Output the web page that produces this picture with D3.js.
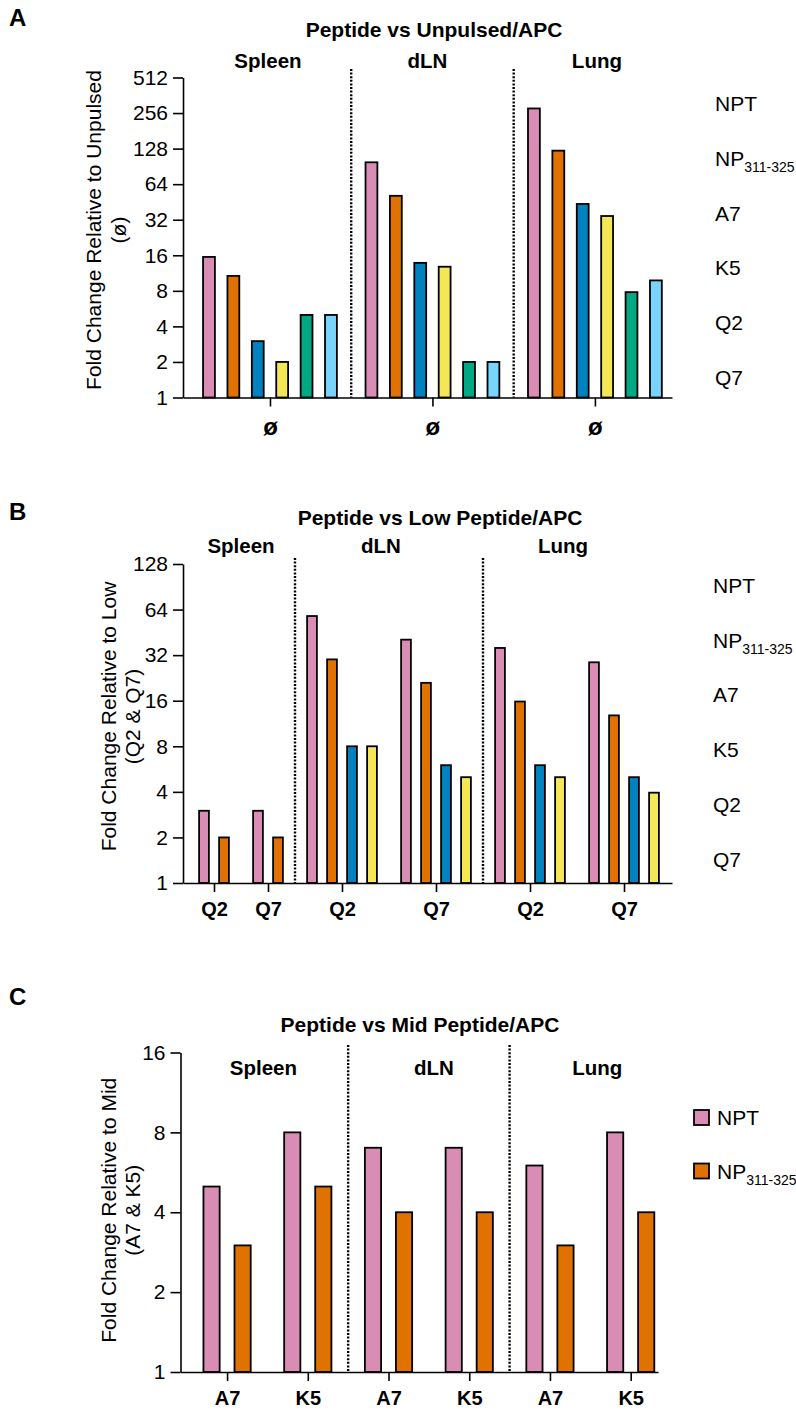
<!DOCTYPE html>
<html>
<head>
<meta charset="utf-8">
<script src="https://cdn.jsdelivr.net/npm/d3@7"></script>
<style>
  body { margin: 0; background: #fff; }
  svg { display: block; font-family: "Liberation Sans", Arial, Helvetica, sans-serif; }
  .axis path, .axis line { stroke: #000; stroke-width: 1.6px; }
  .axis text { font-family: "Liberation Sans", Arial, Helvetica, sans-serif; font-size: 21px; fill: #000; }
  .x-axis text { font-weight: bold; font-size: 20px; }
  .x-axis.slashed text { font-size: 24px; }
  .panel-letter { font-size: 24px; font-weight: bold; }
  .panel-title { font-size: 21px; font-weight: bold; }
  .tissue-label { font-size: 20.5px; font-weight: bold; }
  .y-title { font-size: 21px; }
  .legend-label { font-size: 21px; }
  .legend-sub { font-size: 14px; }
  .separator { stroke: #000; stroke-width: 2.4px; stroke-dasharray: 2 1.6; }
</style>
</head>
<body>
<svg id="chart" width="796" height="1412"></svg>
<script>
// series shared by all three panels
const seriesLabels = ['NPT', 'NP', 'A7', 'K5', 'Q2', 'Q7'];
const seriesSubs = ['', '311-325', '', '', '', ''];
const seriesColors = ['#d98cb4', '#df7200', '#0082c1', '#f4e654', '#00a884', '#78d4fc'];

const tissueNames = ['Spleen', 'dLN', 'Lung'];

// A: peptide vs unpulsed APC
const unpulsedTicks = [1, 2, 4, 8, 16, 32, 64, 128, 256, 512];
const unpulsedLabels = ['ø', 'ø', 'ø'];
const unpulsedSpleen = [15.5, 10.7, 3, 2, 5, 5];
const unpulsedDLN = [98, 51, 13.8, 12.8, 2, 2];
const unpulsedLung = [280, 123, 43.5, 34.4, 7.8, 9.8];

// B: peptide vs low peptide APC
const lowTicks = [1, 2, 4, 8, 16, 32, 64, 128];
const lowLabels = ['Q2', 'Q7', 'Q2', 'Q7', 'Q2', 'Q7'];
const lowSpleenQ2 = [3, 2];
const lowSpleenQ7 = [3, 2];
const lowDLNQ2 = [58, 30, 8, 8];
const lowDLNQ7 = [40.5, 21, 6, 5];
const lowLungQ2 = [35.7, 15.8, 6, 5];
const lowLungQ7 = [28.7, 12.8, 5, 3.95];

// C: peptide vs mid peptide APC
const midTicks = [1, 2, 4, 8, 16];
const midLabels = ['A7', 'K5', 'A7', 'K5', 'A7', 'K5'];
const midSpleenA7 = [5, 3];
const midSpleenK5 = [8, 5];
const midDLNA7 = [7, 4];
const midDLNK5 = [7, 4];
const midLungA7 = [6, 3];
const midLungK5 = [8, 4];

const panels = [
  {
    letter: 'A',
    title: 'Peptide vs Unpulsed/APC',
    yTitle: ['Fold Change Relative to Unpulsed', '(ø)'],
    ticks: unpulsedTicks,
    groups: [
      {tissue: tissueNames[0], label: unpulsedLabels[0], values: unpulsedSpleen},
      {tissue: tissueNames[1], label: unpulsedLabels[1], values: unpulsedDLN},
      {tissue: tissueNames[2], label: unpulsedLabels[2], values: unpulsedLung}
    ],
    legendCount: 6,
    layout: {
      x0: 183, x1: 672, yTop: 77.5, yBottom: 397.5,
      padLeft: 0.565, padRight: 0.16, gap: 0.66, barFrac: 0.56,
      letterY: 26, titleX: 434, titleY: 36.5, tissueY: 67.5, sepTop: 69,
      tissueShift: [-2, -5, 2], xClass: 'slashed',
      yTitleX: [100.5, 126], yTitleShift: -7.5, xPadding: 11,
      legendX: 715, legendY: 111, legendStep: 54.8, swatch: false
    }
  },
  {
    letter: 'B',
    title: 'Peptide vs Low Peptide/APC',
    yTitle: ['Fold Change Relative to Low', '(Q2 & Q7)'],
    ticks: lowTicks,
    groups: [
      {tissue: tissueNames[0], label: lowLabels[0], values: lowSpleenQ2},
      {tissue: tissueNames[0], label: lowLabels[1], values: lowSpleenQ7},
      {tissue: tissueNames[1], label: lowLabels[2], values: lowDLNQ2},
      {tissue: tissueNames[1], label: lowLabels[3], values: lowDLNQ7},
      {tissue: tissueNames[2], label: lowLabels[4], values: lowLungQ2},
      {tissue: tissueNames[2], label: lowLabels[5], values: lowLungQ7}
    ],
    legendCount: 6,
    layout: {
      x0: 183, x1: 672, yTop: 564, yBottom: 883,
      padLeft: 0.55, padRight: 0.4, gap: 0.7, barFrac: 0.58,
      letterY: 520, titleX: 440, titleY: 525, tissueY: 553, sepTop: 558,
      tissueShift: [0, -8, -14], xClass: '',
      yTitleX: [116, 139.5], yTitleShift: -7, xPadding: 10,
      legendX: 713, legendY: 592.7, legendStep: 54.8, swatch: false
    }
  },
  {
    letter: 'C',
    title: 'Peptide vs Mid Peptide/APC',
    yTitle: ['Fold Change Relative to Mid', '(A7 & K5)'],
    ticks: midTicks,
    groups: [
      {tissue: tissueNames[0], label: midLabels[0], values: midSpleenA7},
      {tissue: tissueNames[0], label: midLabels[1], values: midSpleenK5},
      {tissue: tissueNames[1], label: midLabels[2], values: midDLNA7},
      {tissue: tissueNames[1], label: midLabels[3], values: midDLNK5},
      {tissue: tissueNames[2], label: midLabels[4], values: midLungA7},
      {tissue: tissueNames[2], label: midLabels[5], values: midLungK5}
    ],
    legendCount: 2,
    layout: {
      x0: 180.5, x1: 658, yTop: 1052.5, yBottom: 1372,
      padLeft: 0.5, padRight: -0.12, gap: 0.6, barFrac: 0.58,
      letterY: 1005, titleX: 420, titleY: 1031.5, tissueY: 1075, sepTop: 1045,
      tissueShift: [-4, 5, 7], xClass: '',
      yTitleX: [116, 139.5], yTitleShift: -2, xPadding: 10,
      legendX: 717, legendY: 1125, legendStep: 53.5, swatch: true
    }
  }
];

const svg = d3.select('#chart');

function drawPanel(p) {
  const L = p.layout;
  const g = svg.append('g').attr('class', 'panel');

  // every bar takes one slot; groups are separated by a fractional gap
  let cursor = 0;
  const placed = p.groups.map((grp, i) => {
    if (i > 0) cursor += L.gap;
    const start = cursor;
    cursor += grp.values.length;
    return Object.assign({}, grp, {start: start, end: cursor, center: (start + cursor) / 2});
  });

  const x = d3.scaleLinear()
      .domain([-L.padLeft, cursor + L.padRight])
      .range([L.x0, L.x1]);
  const y = d3.scaleLog().base(2)
      .domain(d3.extent(p.ticks))
      .range([L.yBottom, L.yTop]);

  const slot = x(1) - x(0);
  const barW = slot * L.barFrac - 1.8;

  // bars
  g.selectAll('.bar-group')
    .data(placed)
    .join('g')
      .attr('class', 'bar-group')
    .selectAll('rect')
    .data(d => d.values.map((v, i) => ({v: v, i: i, pos: d.start + i + 0.5})))
    .join('rect')
      .attr('x', d => x(d.pos) - barW / 2)
      .attr('y', d => y(d.v))
      .attr('width', barW)
      .attr('height', d => y(1) - y(d.v))
      .attr('fill', d => seriesColors[d.i])
      .attr('stroke', '#000')
      .attr('stroke-width', 1.8);

  // dotted separators between tissues
  const seps = [];
  placed.forEach((d, i) => {
    if (i > 0 && d.tissue !== placed[i - 1].tissue) seps.push((placed[i - 1].end + d.start) / 2);
  });
  g.selectAll('.separator')
    .data(seps)
    .join('line')
      .attr('class', 'separator')
      .attr('x1', d => x(d)).attr('x2', d => x(d))
      .attr('y1', L.sepTop).attr('y2', L.yBottom);

  // tissue headers
  const tissues = d3.groups(placed, d => d.tissue).map(([name, gs]) => ({
    name: name,
    center: (gs[0].start + gs[gs.length - 1].end) / 2
  }));
  g.selectAll('.tissue-label')
    .data(tissues)
    .join('text')
      .attr('class', 'tissue-label')
      .attr('text-anchor', 'middle')
      .attr('x', (d, i) => x(d.center) + L.tissueShift[i])
      .attr('y', L.tissueY)
      .text(d => d.name);

  // axes
  g.append('g')
      .attr('class', 'axis y-axis')
      .attr('transform', `translate(${L.x0},0)`)
      .call(d3.axisLeft(y)
        .tickValues(p.ticks)
        .tickFormat(d3.format('d'))
        .tickSize(10)
        .tickPadding(5)
        .tickSizeOuter(0));

  g.append('g')
      .attr('class', `axis x-axis ${L.xClass}`)
      .attr('transform', `translate(0,${L.yBottom})`)
      .call(d3.axisBottom(x)
        .tickValues(placed.map(d => d.center))
        .tickFormat((d, i) => placed[i].label)
        .tickSize(9)
        .tickPadding(L.xPadding)
        .tickSizeOuter(0));

  // y axis title, two lines
  const yMid = (L.yTop + L.yBottom) / 2 + L.yTitleShift;
  p.yTitle.forEach((line, i) => {
    g.append('text')
        .attr('class', 'y-title')
        .attr('text-anchor', 'middle')
        .attr('transform', `translate(${L.yTitleX[i]},${yMid}) rotate(-90)`)
        .text(line);
  });

  // panel letter and title
  g.append('text')
      .attr('class', 'panel-letter')
      .attr('x', 9)
      .attr('y', L.letterY)
      .text(p.letter);
  g.append('text')
      .attr('class', 'panel-title')
      .attr('text-anchor', 'middle')
      .attr('x', L.titleX)
      .attr('y', L.titleY)
      .text(p.title);

  // legend
  const legend = g.selectAll('.legend-item')
    .data(d3.range(p.legendCount))
    .join('g')
      .attr('class', 'legend-item')
      .attr('transform', i => `translate(${L.legendX},${L.legendY + i * L.legendStep})`);

  if (L.swatch) {
    legend.append('rect')
        .attr('x', -23)
        .attr('y', -15)
        .attr('width', 15)
        .attr('height', 15)
        .attr('fill', i => seriesColors[i])
        .attr('stroke', '#000')
        .attr('stroke-width', 1.8);
  }

  const label = legend.append('text')
      .attr('class', 'legend-label')
      .text(i => seriesLabels[i]);
  label.filter(i => seriesSubs[i] !== '')
    .append('tspan')
      .attr('class', 'legend-sub')
      .attr('dy', 6)
      .text(i => seriesSubs[i]);
}

panels.forEach(drawPanel);
</script>
</body>
</html>
